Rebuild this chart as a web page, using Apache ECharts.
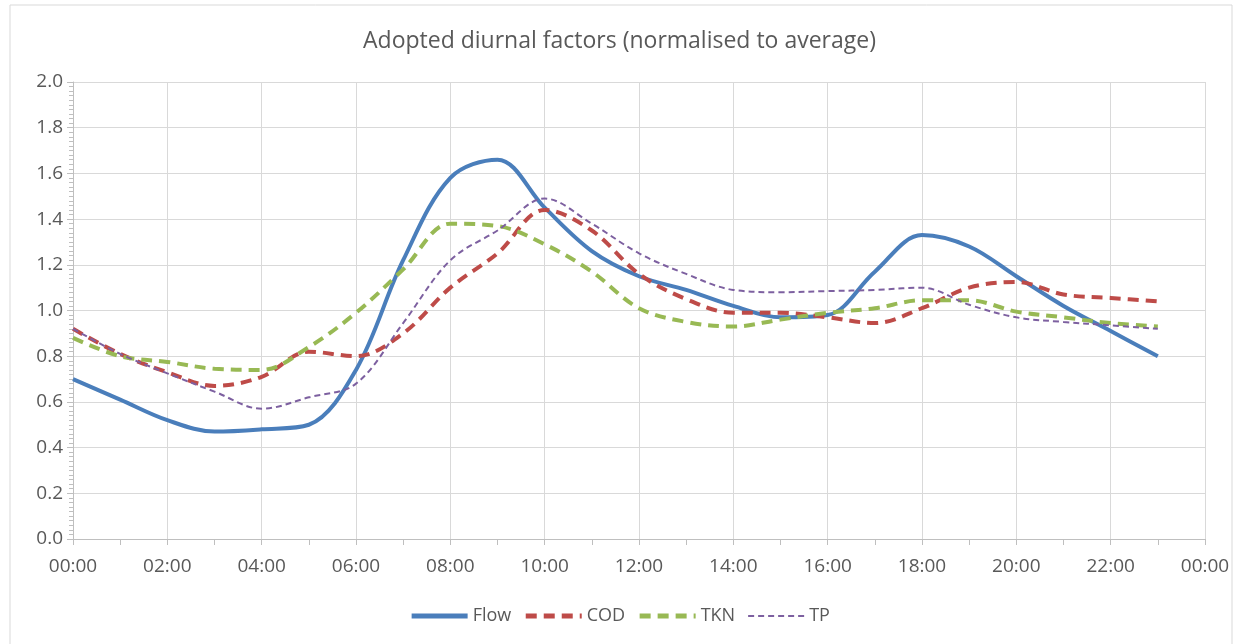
<!DOCTYPE html>
<html>
<head>
<meta charset="utf-8">
<script src="https://cdn.jsdelivr.net/npm/echarts@6/dist/echarts.min.js"></script>
<style>
  html, body { margin: 0; padding: 0; background: #fff; }
  .chart { width: 1239px; height: 644px; }
</style>
</head>
<body>
<div class="chart"></div>
<script>
(function() {
  // hourly factors, 00:00 .. 23:00
  var hours = [0,1,2,3,4,5,6,7,8,9,10,11,12,13,14,15,16,17,18,19,20,21,22,23];
  var flow = [0.70,0.61,0.52,0.47,0.48,0.50,0.74,1.22,1.58,1.66,1.45,1.26,1.15,1.09,1.02,0.97,0.98,1.17,1.33,1.28,1.15,1.02,0.91,0.80];
  var cod  = [0.92,0.81,0.73,0.67,0.71,0.82,0.80,0.90,1.10,1.25,1.44,1.35,1.16,1.05,0.99,0.99,0.97,0.945,1.01,1.10,1.125,1.07,1.055,1.04];
  var tkn  = [0.88,0.80,0.775,0.745,0.74,0.84,0.99,1.18,1.38,1.37,1.29,1.17,1.01,0.95,0.93,0.96,0.99,1.01,1.045,1.045,0.995,0.97,0.945,0.93];
  var tp   = [0.92,0.81,0.725,0.645,0.57,0.62,0.68,0.945,1.22,1.35,1.49,1.38,1.25,1.16,1.09,1.08,1.085,1.09,1.10,1.025,0.97,0.95,0.935,0.92];
  var seriesNames = ['Flow', 'COD', 'TKN', 'TP'];

  var font = "'Open Sans', sans-serif";

  function pairs(vals) {
    var res = [];
    for (var i = 0; i < hours.length; i++) {
      res.push([hours[i], vals[i]]);
    }
    return res;
  }

  function hhmm(v) {
    var h = v % 24;
    return (h < 10 ? '0' + h : '' + h) + ':00';
  }

  var myChart = echarts.init(document.querySelector('.chart'));

  var option = {
    animation: false,
    backgroundColor: '#fff',
    graphic: [{
      type: 'rect',
      shape: { x: 10, y: 5, width: 1222, height: 645 },
      style: { fill: 'none', stroke: '#d9d9d9', lineWidth: 1 },
      silent: true
    }],
    title: {
      text: 'Adopted diurnal factors (normalised to average)',
      left: 'center',
      top: 25,
      textStyle: { color: '#595959', fontSize: 23, fontWeight: 'normal', fontFamily: font }
    },
    legend: {
      bottom: 14,
      left: 'center',
      itemWidth: 56,
      itemHeight: 14,
      itemGap: 12,
      itemStyle: { opacity: 0 },
      lineStyle: { width: 5 },
      textStyle: { color: '#595959', fontSize: 18, fontFamily: font },
      data: [
        seriesNames[0],
        seriesNames[1],
        seriesNames[2],
        { name: seriesNames[3], lineStyle: { width: 2 } }
      ]
    },
    grid: { left: 73, right: 34, top: 82, bottom: 105, containLabel: false },
    xAxis: {
      type: 'value',
      min: 0,
      max: 24,
      interval: 2,
      axisLine: { lineStyle: { color: '#bfbfbf' } },
      axisTick: { show: true, inside: false, length: 6, lineStyle: { color: '#bfbfbf' } },
      minorTick: { show: true, splitNumber: 2, length: 6, lineStyle: { color: '#bfbfbf' } },
      splitLine: { show: true, lineStyle: { color: '#d9d9d9', width: 1 } },
      axisLabel: {
        color: '#595959', fontSize: 19, fontFamily: font, margin: 18,
        formatter: hhmm
      }
    },
    yAxis: {
      type: 'value',
      min: 0,
      max: 2,
      interval: 0.2,
      axisLine: { show: true, lineStyle: { color: '#bfbfbf' } },
      axisTick: { show: true, length: 6, lineStyle: { color: '#bfbfbf' } },
      minorTick: { show: true, splitNumber: 10, length: 4, lineStyle: { color: '#bfbfbf' } },
      splitLine: { show: true, lineStyle: { color: '#d9d9d9', width: 1 } },
      axisLabel: {
        color: '#595959', fontSize: 19, fontFamily: font, margin: 10,
        formatter: function(v) { return v.toFixed(1); }
      }
    },
    series: [
      {
        name: 'Flow', type: 'line', smooth: 0.35, symbol: 'none',
        data: pairs(flow),
        itemStyle: { color: '#4a7ebb' },
        lineStyle: { color: '#4a7ebb', width: 4 }
      },
      {
        name: 'COD', type: 'line', smooth: 0.35, symbol: 'none',
        data: pairs(cod),
        itemStyle: { color: '#be4b48' },
        lineStyle: { color: '#be4b48', width: 4, type: [11, 7] }
      },
      {
        name: 'TKN', type: 'line', smooth: 0.35, symbol: 'none',
        data: pairs(tkn),
        itemStyle: { color: '#98b954' },
        lineStyle: { color: '#98b954', width: 4, type: [11, 7] }
      },
      {
        name: 'TP', type: 'line', smooth: 0.35, symbol: 'none',
        data: pairs(tp),
        itemStyle: { color: '#7d60a0' },
        lineStyle: { color: '#7d60a0', width: 2, type: [6, 4] }
      }
    ]
  };

  myChart.setOption(option);
  window.addEventListener('resize', function() {
    myChart.resize();
  });
})();
</script>
</body>
</html>
